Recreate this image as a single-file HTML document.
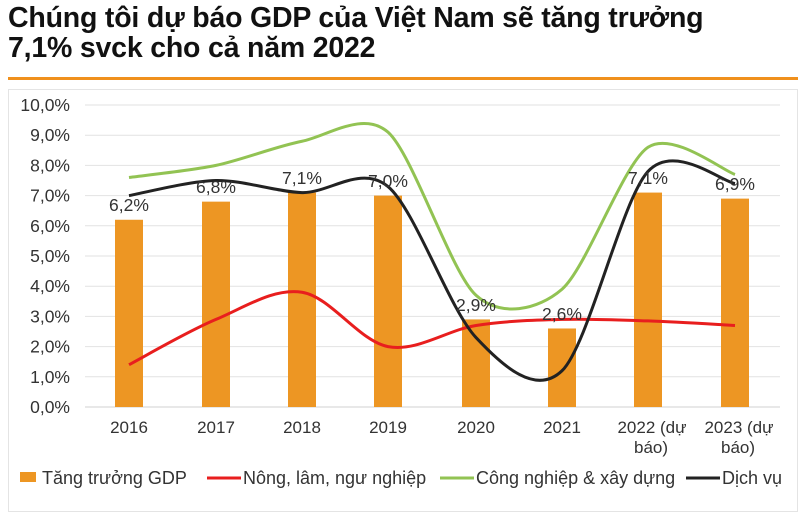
<!DOCTYPE html>
<html><head><meta charset="utf-8">
<style>
body{margin:0;width:800px;height:516px;background:#fff;overflow:hidden;font-family:"Liberation Sans",Arial,sans-serif;}
.t{position:absolute;left:8px;top:3px;font-size:28.5px;font-weight:bold;color:#111;line-height:30px;letter-spacing:-0.2px;}
</style></head><body>
<div class="t">Chúng tôi dự báo GDP của Việt Nam sẽ tăng trưởng<br>7,1% svck cho cả năm 2022</div>
<svg id="s" width="800" height="516" style="position:absolute;left:0;top:0" font-family="Liberation Sans, Arial, sans-serif">
<rect x="8" y="77" width="790" height="3" fill="#f0901c"/>
<rect x="8.5" y="89.5" width="789" height="422" fill="none" stroke="#e4e4e4"/>
<g id="g"></g>
</svg>
<script>
var g=document.getElementById('g'),h='';
function Y(v){return 407-v*30.2;}
var X=[129,216,302,388,476,562,648,735];
for(var i=0;i<=10;i++){var y=Y(i);h+='<line x1="85" x2="780" y1="'+y+'" y2="'+y+'" stroke="'+(i==0?'#d0d0d0':'#e2e2e2')+'" stroke-width="1"/>';
h+='<text x="70" y="'+(y+6)+'" text-anchor="end" font-size="17.5" fill="#333">'+i+',0%</text>';}
var gdp=[6.2,6.8,7.1,7.0,2.9,2.6,7.1,6.9],lab=['6,2%','6,8%','7,1%','7,0%','2,9%','2,6%','7,1%','6,9%'];
gdp.forEach(function(v,i){h+='<rect x="'+(X[i]-14)+'" y="'+Y(v)+'" width="28" height="'+(v*30.2)+'" fill="#ed9623"/>';});
function path(d,c,k){var p=d.map(function(v,i){return [X[i],Y(v)]});var s='M'+p[0][0]+','+p[0][1];
for(var i=0;i<p.length-1;i++){var a=p[i-1]||p[i],b=p[i],c2=p[i+1],e=p[i+2]||c2;
s+=' C'+(b[0]+(c2[0]-a[0])/k)+','+(b[1]+(c2[1]-a[1])/k)+' '+(c2[0]-(e[0]-b[0])/k)+','+(c2[1]-(e[1]-b[1])/k)+' '+c2[0]+','+c2[1];}
return '<path d="'+s+'" fill="none" stroke="'+c+'" stroke-width="3"/>';}
h+=path([1.4,2.9,3.8,2.0,2.7,2.9,2.85,2.7],'#e81e1e',6);
h+=path([7.6,8.0,8.8,9.1,3.7,3.9,8.6,7.7],'#92c353',7);
h+=path([7.0,7.5,7.1,7.3,2.3,1.2,7.8,7.4],'#222',6.5);
var ly=[6.35,6.95,7.25,7.15,3.05,2.75,7.25,7.05];
lab.forEach(function(l,i){h+='<text x="'+X[i]+'" y="'+(Y(ly[i])-4)+'" text-anchor="middle" font-size="17.5" fill="#333">'+l+'</text>';});
var xl=['2016','2017','2018','2019','2020','2021'];
xl.forEach(function(l,i){h+='<text x="'+X[i]+'" y="433" text-anchor="middle" font-size="17" fill="#333">'+l+'</text>';});
[648,735].forEach(function(x,i){h+='<text x="'+(x+4)+'" y="433" text-anchor="middle" font-size="17" fill="#333">'+(i?'2023':'2022')+' (dự</text><text x="'+(x+3)+'" y="453" text-anchor="middle" font-size="17" fill="#333">báo)</text>';});
var L=[[40,'rect','#ed9623','Tăng trưởng GDP'],[207,'l','#e81e1e','Nông, lâm, ngư nghiệp'],[440,'l','#92c353','Công nghiệp &amp; xây dựng'],[686,'l','#222','Dịch vụ']];
L.forEach(function(o){if(o[1]=='rect')h+='<rect x="'+(o[0]-20)+'" y="472" width="16" height="10" fill="'+o[2]+'"/>';else h+='<line x1="'+o[0]+'" x2="'+(o[0]+34)+'" y1="478" y2="478" stroke="'+o[2]+'" stroke-width="3"/>';
h+='<text x="'+(o[1]=='rect'?o[0]+2:o[0]+36)+'" y="484" font-size="18" fill="#333">'+o[3]+'</text>';});
g.innerHTML=h;
</script>
</body></html>
